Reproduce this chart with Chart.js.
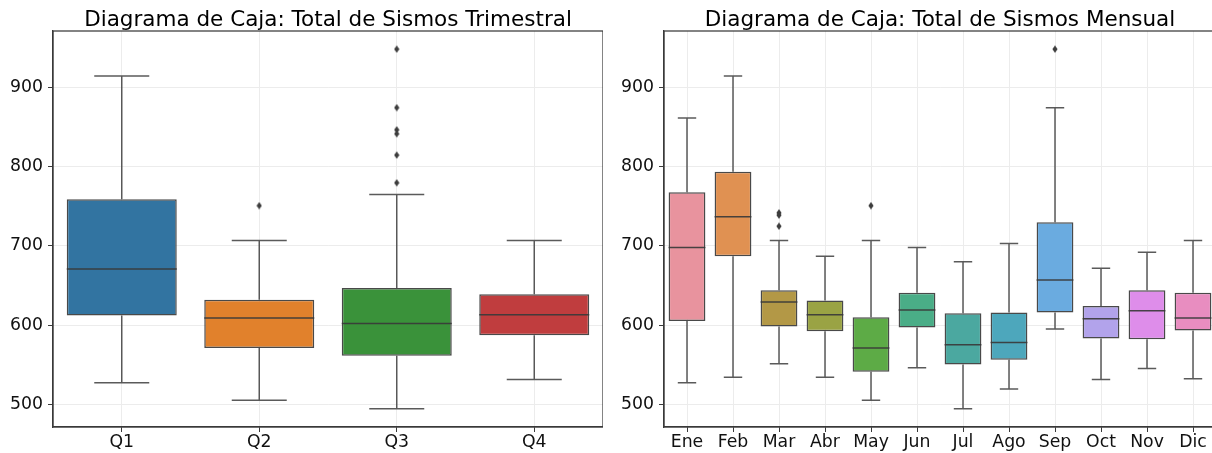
<!DOCTYPE html>
<html>
<head>
<meta charset="utf-8">
<script src="https://cdn.jsdelivr.net/npm/chart.js@4.4.0/dist/chart.umd.min.js"></script>
<style>
  html, body { margin: 0; padding: 0; background: #fff; overflow: hidden; }
  #wrap { position: relative; width: 1212px; height: 453px; overflow: hidden; }
  .panel { position: absolute; top: 0; height: 453px; }
  .panel canvas { display: block; }
  #left { left: 0; width: 603px; }
  #right { left: 611px; width: 605px; }
</style>
</head>
<body>
<div id="wrap">
  <div class="panel" id="left"><canvas id="cTrim" width="603" height="453" style="width:603px;height:453px"></canvas></div>
  <div class="panel" id="right"><canvas id="cMes" width="605" height="453" style="width:605px;height:453px"></canvas></div>
</div>
<script>
// --- Datos ---
const yTicks = [500, 600, 700, 800, 900];

// Trimestral
const trimLabels = ['Q1', 'Q2', 'Q3', 'Q4'];
const trimMin = [527, 505, 494, 531];
const trimQ1  = [612, 571, 561, 587];
const trimMed = [671, 609, 602, 613];
const trimQ3  = [759, 632, 647, 639];
const trimMax = [915, 707, 765, 707];
const trimOut = [[], [751], [949, 875, 847, 842, 815, 780], []];
const trimColors = ['#3274a1', '#e1812c', '#3a923a', '#c03d3e'];

// Mensual
const mesLabels = ['Ene', 'Feb', 'Mar', 'Abr', 'May', 'Jun', 'Jul', 'Ago', 'Sep', 'Oct', 'Nov', 'Dic'];
const mesMin = [527, 534, 551, 534, 505, 546, 494, 519, 595, 531, 545, 532];
const mesQ1  = [605, 687, 598, 592, 541, 597, 550, 556, 616, 583, 582, 593];
const mesMed = [698, 737, 629, 613, 571, 619, 575, 578, 657, 608, 618, 609];
const mesQ3  = [768, 794, 644, 631, 610, 641, 615, 616, 730, 624, 644, 641];
const mesMax = [862, 915, 707, 687, 707, 698, 680, 703, 875, 672, 692, 707];
const mesOut = [[], [], [742, 739, 725], [], [751], [], [], [], [949], [], [], []];
const mesColors = ['#e8939e', '#e09152', '#b39846', '#9aa344', '#5dab46', '#4aad87',
                   '#4ba8a0', '#4da7bc', '#6aabe0', '#b2a3eb', '#de8dea', '#e88dc0'];

const FONT = 'DejaVu Sans';
const EDGE = 'rgba(58,58,58,0.92)';
const WHISK = 'rgba(72,72,72,0.9)';

// marcador de diamante fino (como 'd' de matplotlib)
function diamond() {
    const c = document.createElement('canvas');
    c.width = 6; c.height = 8;
    const g = c.getContext('2d');
    g.fillStyle = '#3d3d3d';
    g.beginPath();
    g.moveTo(3, 0.3); g.lineTo(5.6, 4); g.lineTo(3, 7.7); g.lineTo(0.4, 4);
    g.closePath();
    g.fill();
    return c;
}
const diamondImg = diamond();

// bigotes, tapas y mediana
function boxPlugin(mn, q1, med, q3, mx) {
    return {
        id: 'boxWhiskers',
        afterDatasetsDraw(chart) {
            const ctx = chart.ctx;
            const y = chart.scales.y;
            const meta = chart.getDatasetMeta(0);
            ctx.save();
            ctx.lineWidth = 1.5;
            meta.data.forEach((bar, i) => {
                const cx = bar.x;
                const half = bar.width / 2;
                const cap = bar.width / 4;
                const pMin = y.getPixelForValue(mn[i]);
                const pQ1 = y.getPixelForValue(q1[i]);
                const pMed = y.getPixelForValue(med[i]);
                const pQ3 = y.getPixelForValue(q3[i]);
                const pMax = y.getPixelForValue(mx[i]);
                ctx.strokeStyle = WHISK;
                ctx.beginPath();
                ctx.moveTo(cx, pQ3); ctx.lineTo(cx, pMax);
                ctx.moveTo(cx - cap, pMax); ctx.lineTo(cx + cap, pMax);
                ctx.moveTo(cx, pQ1); ctx.lineTo(cx, pMin);
                ctx.moveTo(cx - cap, pMin); ctx.lineTo(cx + cap, pMin);
                ctx.stroke();
                ctx.strokeStyle = EDGE;
                ctx.beginPath();
                ctx.moveTo(cx - half, pMed); ctx.lineTo(cx + half, pMed);
                ctx.stroke();
            });
            ctx.restore();
        },
        afterDraw(chart) {
            const a = chart.chartArea;
            const ctx = chart.ctx;
            ctx.save();
            ctx.strokeStyle = '#3a3a3a';
            ctx.lineWidth = 1.25;
            ctx.strokeRect(a.left, a.top, a.right - a.left, a.bottom - a.top);
            ctx.restore();
        }
    };
}

function makeChart(id, title, labels, mn, q1, med, q3, mx, outl, colors) {
    const outPts = [];
    outl.forEach((arr, i) => arr.forEach(v => outPts.push({ x: labels[i], y: v })));

    return new Chart(document.getElementById(id), {
        type: 'bar',
        data: {
            labels: labels,
            datasets: [{
                data: labels.map((_, i) => [q1[i], q3[i]]),
                backgroundColor: colors,
                borderColor: EDGE,
                borderWidth: 1.5,
                borderSkipped: false,
                barPercentage: 0.8,
                categoryPercentage: 1.0,
                order: 2
            }, {
                type: 'line',
                data: outPts,
                showLine: false,
                pointStyle: diamondImg,
                pointRadius: 4,
                order: 1
            }]
        },
        options: {
            responsive: false,
            animation: false,
            layout: { padding: 0, autoPadding: false },
            plugins: {
                legend: { display: false },
                tooltip: { enabled: false },
                title: {
                    display: true,
                    text: title,
                    fullSize: false,
                    color: '#000',
                    font: { family: FONT, size: 21.5, weight: 'normal', lineHeight: 1.0 },
                    padding: { top: 9.5, bottom: 0 }
                }
            },
            scales: {
                x: {
                    offset: true,
                    grid: { offset: false, color: '#ececec', lineWidth: 1, tickColor: '#3a3a3a', tickLength: 5 },
                    border: { display: true, color: '#3a3a3a', width: 1.25 },
                    ticks: { font: { family: FONT, size: 17.3 }, color: '#111', padding: 0, maxRotation: 0, autoSkip: false },
                    afterFit(s) { s.height = 26; }
                },
                y: {
                    min: 471,
                    max: 972,
                    afterBuildTicks(s) { s.ticks = yTicks.map(v => ({ value: v })); },
                    grid: { color: '#ececec', lineWidth: 1, tickColor: '#3a3a3a', tickLength: 5 },
                    border: { display: true, color: '#3a3a3a', width: 1.25 },
                    ticks: { font: { family: FONT, size: 17.3 }, color: '#111', padding: 5 },
                    afterFit(s) { s.width = 53; }
                }
            }
        },
        plugins: [boxPlugin(mn, q1, med, q3, mx)]
    });
}

makeChart('cTrim', 'Diagrama de Caja: Total de Sismos Trimestral',
    trimLabels, trimMin, trimQ1, trimMed, trimQ3, trimMax, trimOut, trimColors);
makeChart('cMes', 'Diagrama de Caja: Total de Sismos Mensual',
    mesLabels, mesMin, mesQ1, mesMed, mesQ3, mesMax, mesOut, mesColors);
</script>
</body>
</html>
